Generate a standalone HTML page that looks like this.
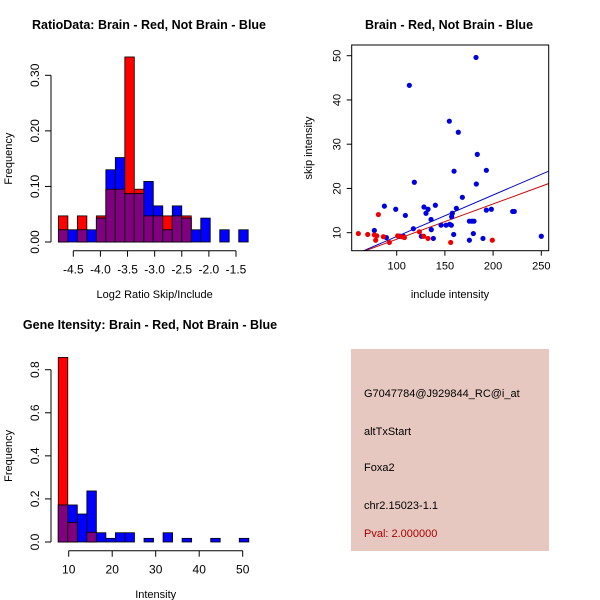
<!DOCTYPE html>
<html><head><meta charset="utf-8"><style>
body{margin:0;background:#fff;}
svg{display:block;font-family:"Liberation Sans",sans-serif;}
</style></head><body>
<svg id="c" width="600" height="600" viewBox="0 0 600 600"></svg>
<script>
// ---- Panel 1 data (log2 ratio histogram) ----
const ratioBinStart = -4.775;
const ratioBinWidth = 0.175;
const ratioRed  = [0.047,0,0.047,0,0.047,0.095,0.095,0.333,0.095,0.047,0.047,0.047,0.047,0.047,0,0,0,0,0,0];
const ratioBlue = [0.022,0.022,0.022,0.022,0.043,0.13,0.152,0.087,0.087,0.109,0.065,0.022,0.065,0.043,0.022,0.043,0,0.022,0,0.022];
const ratioXTicks = [-4.5,-4.0,-3.5,-3.0,-2.5,-2.0,-1.5];
const ratioXLabels = ["-4.5","-4.0","-3.5","-3.0","-2.5","-2.0","-1.5"];
const ratioYTicks = [0,0.1,0.2,0.3];
const ratioYLabels = ["0.00","0.10","0.20","0.30"];
// ---- Panel 2 data (scatter) ----
const blueX = [76.8,87.2,89.3,99.0,109.0,113.1,117.3,118.3,125.6,128.3,130.4,132.5,135.6,135.9,138.0,140.1,146.0,151.2,154.6,155.0,156.7,157.0,157.7,159.1,159.5,161.9,163.9,168.1,175.4,175.4,178.1,179.5,180.2,182.3,182.6,183.6,189.5,193.0,193.0,198.2,220.3,222.0,250.0,106.9,103.5];
const blueY = [10.5,16.0,8.9,15.3,13.9,43.3,10.9,21.4,9.2,15.8,14.4,15.3,13.0,10.7,8.7,16.2,11.7,11.7,35.2,11.9,11.7,13.6,14.4,9.6,23.9,15.5,32.7,18.0,12.6,8.3,12.6,9.8,12.6,49.6,21.0,27.7,8.7,24.1,15.1,15.3,14.8,14.8,9.2,9.2,9.2];
const redX = [60.2,69.9,76.8,79.3,78.2,81.0,86.2,92.4,101.0,105.2,108.0,123.5,128.0,132.5,156.0,199.2];
const redY = [9.8,9.6,9.5,9.3,8.3,14.1,9.1,7.8,9.3,9.1,8.9,10.2,9.2,8.7,7.8,8.3];
const fitSlope = [0.0937,0.0798];      // blue, red
const fitIntercept = [-0.23,0.54];
const scatXTicks = [100,150,200,250];
const scatYTicks = [10,20,30,40,50];
// ---- Panel 3 data (intensity histogram) ----
const intBinStart = 7.6;
const intBinWidth = 2.19;
const intRed  = [0.857,0.091,0,0.045,0,0,0,0,0,0,0,0,0,0,0,0,0,0,0,0];
const intBlue = [0.172,0.172,0.13,0.237,0.043,0.017,0.043,0.043,0,0.017,0,0.043,0,0.017,0,0,0.017,0,0,0.017];
const intXTicks = [10,20,30,40,50];
const intYTicks = [0,0.2,0.4,0.6,0.8];
const intYLabels = ["0.0","0.2","0.4","0.6","0.8"];

const NS="http://www.w3.org/2000/svg";
const svg=document.getElementById('c');
function mk(tag,attrs,parent,text){const e=document.createElementNS(NS,tag);for(const k in attrs)e.setAttribute(k,attrs[k]);if(text!==undefined)e.textContent=text;(parent||svg).appendChild(e);return e;}
function lin(d0,d1,r0,r1){return v=>r0+(v-d0)*(r1-r0)/(d1-d0);}

function axes(g,xs,ys,xt,xl,yt,yl,xAxisY,yAxisX,xtitle,ytitle,xtitleY){
  const ax=mk('g',{},g);
  
  mk('line',{x1:xs(xt[0]),x2:xs(xt[xt.length-1]),y1:xAxisY,y2:xAxisY,stroke:'#000'},ax);
  xt.forEach((t,i)=>{mk('line',{x1:xs(t),x2:xs(t),y1:xAxisY,y2:xAxisY+6,stroke:'#000'},ax);
    const tx=mk('text',{x:xs(t),y:xAxisY+23,'text-anchor':'middle','font-size':12},ax,xl[i]);
    });
  const xtl=mk('text',{x:(xs(xt[0])+xs(xt[xt.length-1]))/2,y:xtitleY,'text-anchor':'middle','font-size':11},g,xtitle);
  
  const ay=mk('g',{},g);
  
  mk('line',{x1:yAxisX,x2:yAxisX,y1:ys(yt[0]),y2:ys(yt[yt.length-1]),stroke:'#000'},ay);
  yt.forEach((t,i)=>{mk('line',{x1:yAxisX-6,x2:yAxisX,y1:ys(t),y2:ys(t),stroke:'#000'},ay);
    const tx=mk('text',{x:yAxisX-12,y:ys(t),'text-anchor':'middle','font-size':12,transform:`rotate(-90 ${yAxisX-12} ${ys(t)})`},ay,yl[i]);
    });
  const my=(ys(yt[0])+ys(yt[yt.length-1]))/2;
  const ytl=mk('text',{x:12,y:my,'text-anchor':'middle','font-size':11,transform:`rotate(-90 12 ${my})`},g,ytitle);
  
}
function hist(g,xs,ys,start,w,red,blue){
  const n=red.length;
  for(let i=0;i<n;i++){const x0=xs(start+i*w),x1=xs(start+(i+1)*w);
    if(red[i]>0){const r=mk('rect',{x:x0,y:ys(red[i]),width:x1-x0,height:ys(0)-ys(red[i]),fill:'#ff0000',stroke:'#000','stroke-width':0.8},g);
      }
    if(blue[i]>0){const b=mk('rect',{x:x0,y:ys(blue[i]),width:x1-x0,height:ys(0)-ys(blue[i]),fill:'#0000ff',stroke:'#000','stroke-width':0.8},g);
      }
    const m=Math.min(red[i],blue[i]);
    if(m>0){const p=mk('rect',{x:x0,y:ys(m),width:x1-x0,height:ys(0)-ys(m),fill:'#800080',stroke:'#000','stroke-width':0.8},g);
      }
  }
}
function title(x,y,t){const e=mk('text',{x:x,y:y,'text-anchor':'middle','font-size':12.5,'font-weight':'bold'},svg,t);
  }

// Panel 1
{const g=mk('g',{});
 const xs=lin(-4.5,-1.5,73.3,236),ys=lin(0,0.3,242,75.3);
 hist(g,xs,ys,ratioBinStart,ratioBinWidth,ratioRed,ratioBlue);
 axes(g,xs,ys,ratioXTicks,ratioXLabels,ratioYTicks,ratioYLabels,250.7,51,'Log2 Ratio Skip/Include','Frequency',298);
 title(149,29,'RatioData: Brain - Red, Not Brain - Blue');}

// Panel 2
{const g=mk('g',{});
 const xs=lin(100,250,396.7,541.3),ys=lin(10,50,232.7,55.7);
 const L=351.7,R=548.7,T=45,B=250.7;
 const clip=mk('clipPath',{id:'cp'},g);mk('rect',{x:L,y:T,width:R-L,height:B-T},clip);
 const cols=['#0000cc','#cc0000'];
 for(let k=0;k<2;k++){
   const ln=mk('line',{x1:xs(53),y1:ys(fitSlope[k]*53+fitIntercept[k]),x2:xs(260),y2:ys(fitSlope[k]*260+fitIntercept[k]),stroke:cols[k],'stroke-width':1,'clip-path':'url(#cp)'},g);
   }
 blueX.forEach((v,i)=>{const c=mk('circle',{cx:xs(v),cy:ys(blueY[i]),r:2.6,fill:'#0000dd','clip-path':'url(#cp)'},g);
   });
 redX.forEach((v,i)=>{const c=mk('circle',{cx:xs(v),cy:ys(redY[i]),r:2.6,fill:'#ee0000','clip-path':'url(#cp)'},g);
   });
 const box=mk('rect',{x:L,y:T,width:R-L,height:B-T,fill:'none',stroke:'#000'},g);
 
 const ax=mk('g',{},g);
 scatXTicks.forEach(t=>{mk('line',{x1:xs(t),x2:xs(t),y1:B,y2:B+5,stroke:'#000'},ax);
   const tx=mk('text',{x:xs(t),y:B+19,'text-anchor':'middle','font-size':11},ax,String(t));
   });
 const ay=mk('g',{},g);
 scatYTicks.forEach(t=>{mk('line',{x1:L-5,x2:L,y1:ys(t),y2:ys(t),stroke:'#000'},ay);
   const tx=mk('text',{x:L-11,y:ys(t),'text-anchor':'middle','font-size':11,transform:`rotate(-90 ${L-11} ${ys(t)})`},ay,String(t));
   });
 const xt=mk('text',{x:450,y:298,'text-anchor':'middle','font-size':11},g,'include intensity');
 
 const yt=mk('text',{x:312,y:148,'text-anchor':'middle','font-size':11,transform:'rotate(-90 312 148)'},g,'skip intensity');
 
 title(449,29,'Brain - Red, Not Brain - Blue');}

// Panel 3
{const g=mk('g',{});
 const xs=lin(10,50,68.7,242.7),ys=lin(0,0.8,542,369.7);
 hist(g,xs,ys,intBinStart,intBinWidth,intRed,intBlue);
 axes(g,xs,ys,intXTicks,intXTicks.map(String),intYTicks,intYLabels,550.7,51,'Intensity','Frequency',598);
 title(150,329,'Gene Itensity: Brain - Red, Not Brain - Blue');}

// Info panel
{const g=mk('g',{});
 mk('rect',{x:351,y:349,width:198,height:202,fill:'#e6c8c0'},g);
 const lines=[['G7047784@J929844_RC@i_at',397,'#000','probe-id'],['altTxStart',435,'#000','event-type'],['Foxa2',471,'#000','gene-name'],['chr2.15023-1.1',509,'#000','location'],['Pval: 2.000000',537,'#aa0000','p-value']];
 lines.forEach(l=>{const t=mk('text',{x:364,y:l[1],'font-size':11,fill:l[2]},g,l[0]);
   });}
</script>
</body></html>
